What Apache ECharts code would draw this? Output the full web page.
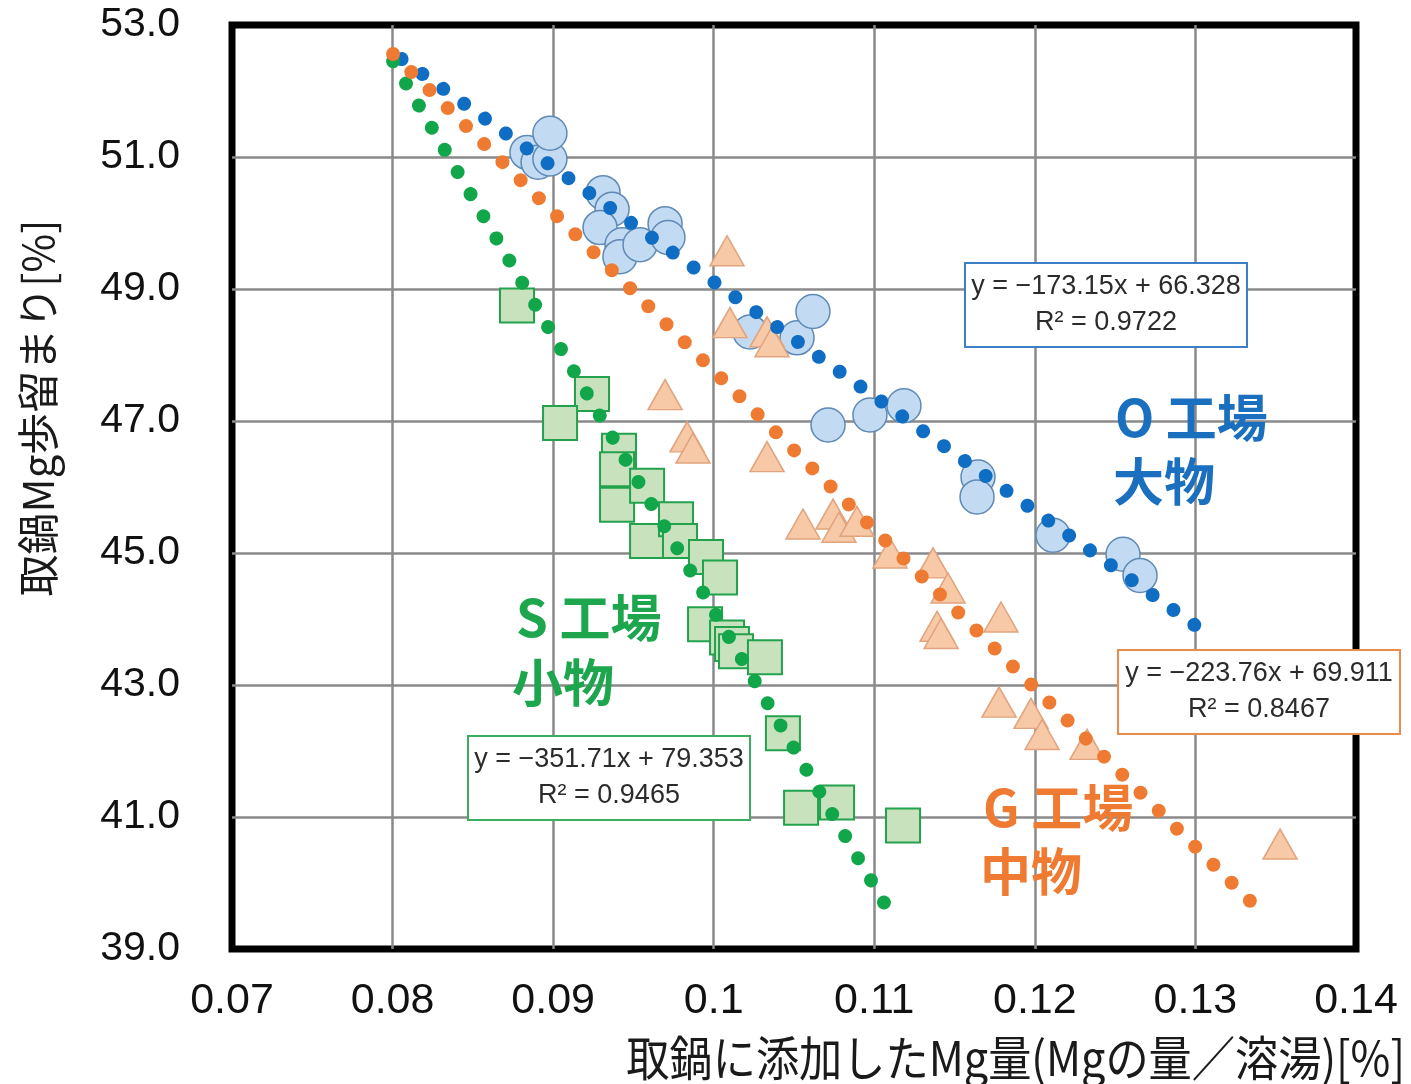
<!DOCTYPE html>
<html><head><meta charset="utf-8">
<script src="https://cdn.jsdelivr.net/npm/echarts@6/dist/echarts.min.js"></script>
<style>html,body{margin:0;padding:0;background:#fff}#c{width:1411px;height:1084px}</style>
</head><body><div id="c"></div>
<script>
// ---- data ----
const xTickValues = [0.07, 0.08, 0.09, 0.10, 0.11, 0.12, 0.13, 0.14];
const yTickValues = [39, 41, 43, 45, 47, 49, 51, 53];

// O工場 大物 (circles)
const oPlant = [
  [0.08837,51.07],[0.08906,50.92],[0.08980,50.97],[0.08980,51.36],
  [0.09311,50.46],[0.09367,50.21],[0.09292,49.93],[0.09429,49.67],[0.09416,49.49],
  [0.09541,49.67],[0.09697,49.99],[0.09715,49.78],
  [0.10226,48.35],[0.10519,48.26],[0.10618,48.66],
  [0.10712,46.94],[0.10973,47.09],[0.11185,47.23],
  [0.11646,46.15],[0.11640,45.85],[0.12113,45.27],[0.12549,44.98],[0.12655,44.66]
];
// G工場 中物 (triangles)
const gPlant = [
  [0.10083,49.58],[0.10101,48.49],[0.10332,48.35],[0.10363,48.20],
  [0.09697,47.40],[0.09834,46.76],[0.09871,46.59],[0.10332,46.46],
  [0.10556,45.44],[0.10743,45.59],[0.10780,45.39],[0.10892,45.48],
  [0.11098,45.00],[0.11366,44.85],[0.11459,44.47],[0.11391,43.89],[0.11416,43.78],
  [0.11789,44.03],[0.11777,42.74],[0.11976,42.57],[0.12045,42.25],[0.12325,42.10],
  [0.13527,40.59]
];
// S工場 小物 (squares)
const sPlant = [
  [0.08775,48.75],[0.09242,47.41],[0.09043,46.97],[0.09410,46.55],[0.09398,46.27],
  [0.09398,45.73],[0.09585,46.02],[0.09585,45.18],[0.09765,45.51],[0.09790,45.18],
  [0.09952,44.94],[0.10039,44.63],[0.09946,43.92],[0.10083,43.72],[0.10114,43.62],
  [0.10139,43.51],[0.10319,43.42],[0.10431,42.27],[0.10544,41.14],[0.10768,41.22],
  [0.11179,40.87]
];
// trend lines (start and end as drawn)
const oTrend = [[0.08056,52.484],[0.12997,43.905]];
const gTrend = [[0.08003,52.56],[0.13352,39.70]];
const sTrend = [[0.08003,52.45],[0.11061,39.70]];

const oEquation = ['y = \u2212173.15x + 66.328', 'R\u00b2 = 0.9722'];
const gEquation = ['y = \u2212223.76x + 69.911', 'R\u00b2 = 0.8467'];
const sEquation = ['y = \u2212351.71x + 79.353', 'R\u00b2 = 0.9465'];

const oName = ['O 工場', '大物'];
const gName = ['G 工場', '中物'];
const sName = ['S 工場', '小物'];

const xTitle = '取鍋に添加したMg量(Mgの量／溶湯)[%]';
const yTitle = '取鍋Mg歩留まり[%]';

// ---- colours ----
const BLUE = '#0f6dc4', ORANGE = '#ee7b31', GREEN = '#12a64a';

const chart = echarts.init(document.getElementById('c'), null, {renderer: 'canvas'});

function trendSeries(data, color) {
  return {
    type: 'line', data: data, symbol: 'none', z: 5, silent: true,
    lineStyle: {color: color, width: 14, type: [0.01, 25.62], cap: 'round'}
  };
}
function eqBox(x, y, lines, color) {
  return [
    {type: 'rect', z: 100, shape: {x: x, y: y, width: 282, height: 84},
     style: {fill: '#fff', stroke: color, lineWidth: 2}},
    {type: 'text', z: 101, x: x + 141, y: y + 42,
     style: {text: lines.join('\n'), fill: '#2b2b2b', font: '27px "Liberation Sans", Arial, sans-serif',
             align: 'center', verticalAlign: 'middle', lineHeight: 36}}
  ];
}
function bigLabel(x1, y1, x2, y2, lines, color) {
  const f = 'bold 51px "Noto Sans CJK JP", sans-serif';
  return [
    {type: 'text', x: x1, y: y1, z: 90, style: {text: lines[0], fill: color, font: f, align: 'left', verticalAlign: 'middle'}},
    {type: 'text', x: x2, y: y2, z: 90, style: {text: lines[1], fill: color, font: f, align: 'left', verticalAlign: 'middle'}}
  ];
}

const option = {
  backgroundColor: '#fff',
  animation: false,
  grid: {left: 232, top: 25, width: 1124, height: 924, show: true, borderColor: '#000', borderWidth: 7, backgroundColor: 'transparent'},
  xAxis: {
    type: 'value', min: 0.07, max: 0.14, interval: 0.01,
    axisLine: {show: false}, axisTick: {show: false},
    axisLabel: {margin: 31, color: '#111', fontSize: 43, fontFamily: '"Liberation Sans Narrow", "Liberation Sans", Arial, sans-serif',
      formatter: v => String(parseFloat(v.toFixed(2)))},
    splitLine: {show: true, showMinLine: false, showMaxLine: false, lineStyle: {color: '#8a8a8a', width: 2.5}}
  },
  yAxis: {
    type: 'value', min: 39, max: 53, interval: 2,
    axisLine: {show: false}, axisTick: {show: false},
    axisLabel: {margin: 52, color: '#111', fontSize: 41, fontFamily: '"Liberation Sans", Arial, sans-serif',
      formatter: v => v.toFixed(1)},
    splitLine: {show: true, showMinLine: false, showMaxLine: false, lineStyle: {color: '#8a8a8a', width: 2.5}}
  },
  series: [
    {type: 'scatter', data: oPlant, symbol: 'circle', symbolSize: 34, z: 2,
     itemStyle: {color: '#c2daf2', borderColor: '#5f8ab6', borderWidth: 1.5, opacity: 1}},
    {type: 'scatter', data: gPlant, symbol: 'triangle', symbolSize: [34, 30], z: 3,
     itemStyle: {color: '#f8c9a7', borderColor: '#e0a47e', borderWidth: 1.5, opacity: 1}},
    {type: 'scatter', data: sPlant, symbol: 'rect', symbolSize: 34, z: 3,
     itemStyle: {color: '#c7e2bd', borderColor: '#23a24d', borderWidth: 2, opacity: 1}},
    trendSeries(oTrend, BLUE),
    trendSeries(sTrend, GREEN),
    trendSeries(gTrend, ORANGE)
  ],
  graphic: [
    ...eqBox(965, 263, oEquation, '#3b7fc4'),
    ...eqBox(1118, 650, gEquation, '#ec8a4c'),
    ...eqBox(468, 736, sEquation, '#3aae5e'),
    ...bigLabel(1115, 418, 1113, 482, oName, '#1b6fbf'),
    ...bigLabel(516, 618, 512, 683, sName, '#1ea64f'),
    ...bigLabel(983, 808, 980, 872, gName, '#ef7b33'),
    {type: 'text', x: 1405, y: 1058, scaleX: 0.9, z: 90, style: {text: xTitle, fill: '#1a1a1a', font: '48px "Noto Sans CJK JP", sans-serif', align: 'right', verticalAlign: 'middle'}},
    {type: 'text', x: 38, y: 408, rotation: Math.PI / 2, z: 90, style: {text: yTitle, fill: '#1a1a1a', font: '42px "Noto Sans CJK JP", sans-serif', align: 'center', verticalAlign: 'middle'}}
  ]
};
chart.setOption(option);
</script>
</body></html>
